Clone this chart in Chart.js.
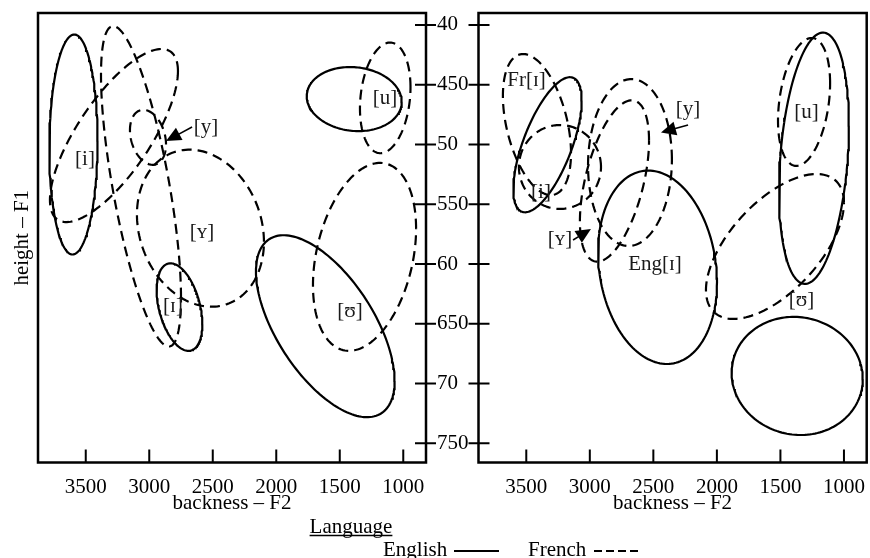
<!DOCTYPE html>
<html>
<head>
<meta charset="utf-8">
<script src="https://cdn.jsdelivr.net/npm/chart.js@4"></script>
<style>
html,body{margin:0;padding:0;background:#fff;}
#wrap{position:relative;width:870px;height:558px;overflow:hidden;}
#wrap canvas{position:absolute;left:0;top:0;}
</style>
</head>
<body>
<div id="wrap">
<canvas id="leftPanel" width="870" height="558"></canvas>
<canvas id="rightPanel" width="870" height="558"></canvas>
</div>
<script>
// ---------- axis ticks ----------
const xTickValues = [3500, 3000, 2500, 2000, 1500, 1000];
const xTickLabels = ['3500', '3000', '2500', '2000', '1500', '1000'];
const yTickValues = [400, 450, 500, 550, 600, 650, 700, 750];
const yTickLabels = ['40', '450', '50', '550', '60', '650', '70', '750'];
const xTitle = 'backness \u2013 F2';
const yTitle = 'height \u2013 F1';
const legendTitle = 'Language';
const legendNames = ['English', 'French'];

// ---------- left panel ellipses (centre F2/F1, half-extent F2/F1 in Hz, tilt in degrees) ----------
const leftVowels   = ['[i]', '[i]', '[y]', '[ɪ]', '[ʏ]', '[ɪ]', '[u]', '[u]', '[ʊ]', '[ʊ]'];
const leftLanguage = ['English', 'French', 'French', 'French', 'French', 'English', 'English', 'French', 'English', 'French'];
const leftCenterF2 = [3597, 3278, 3010, 3065, 2597, 2762, 1386, 1142, 1614, 1305];
const leftCenterF1 = [500, 492.5, 494, 535, 570, 636, 462, 461, 652, 594];
const leftHalfF2   = [190, 504, 142, 315, 500, 180, 374, 199, 546, 406];
const leftHalfF1   = [92, 72.4, 23, 134, 65.7, 36.6, 26.8, 46.3, 76.1, 78.6];
const leftTilt     = [2, 48, -15, -44, -10, -23, -5, 11, -37, 17.5];

// ---------- right panel ellipses ----------
const rightVowels   = ['Fr[ɪ]', '[i]', '[i]', '[y]', '[ʏ]', 'Eng[ɪ]', '[u]', '[u]', '[ʊ]', '[ʊ]'];
const rightLanguage = ['French', 'English', 'French', 'French', 'French', 'English', 'English', 'French', 'French', 'English'];
const rightCenterF2 = [3416, 3333, 3235, 2684, 2806, 2467, 1236, 1314, 1543, 1368];
const rightCenterF1 = [483.3, 500.2, 518.8, 515.1, 530.5, 602.7, 511.5, 464.4, 585.3, 693.6];
const rightHalfF2   = [268, 269, 323, 330, 272, 468, 275, 205, 543, 516];
const rightHalfF1   = [59, 56.5, 35.1, 69.8, 67.5, 80.9, 105.1, 53.5, 60.6, 49.4];
const rightTilt     = [-24, 41, 0, 2, 30, -9, 15, 17, 37, -3];

// ---------- vowel labels ----------
const leftLabelText = ['[i]', '[y]', '[ʏ]', '[ɪ]', '[u]', '[ʊ]'];
const leftLabelF2   = [3506, 2553, 2585, 2813, 1144, 1419];
const leftLabelF1   = [512, 485, 573, 635, 461, 639];
const rightLabelText = ['Fr[ɪ]', '[i]', '[y]', '[ʏ]', 'Eng[ɪ]', '[u]', '[ʊ]'];
const rightLabelF2   = [3498, 3384, 2227, 3235, 2487, 1295, 1334];
const rightLabelF1   = [446, 539, 470, 579, 599.5, 472, 630];

// ---------- arrows (from label to ellipse) ----------
const leftArrowFromF2 = [2663];
const leftArrowFromF1 = [485.4];
const leftArrowToF2   = [2868];
const leftArrowToF1   = [497.1];
const rightArrowFromF2 = [2227, 3132];
const rightArrowFromF1 = [483.7, 579.9];
const rightArrowToF2   = [2440, 2991];
const rightArrowToF1   = [490, 570.7];

// ---------- scale ranges ----------
const F2_MIN = 821, F2_MAX = 3876;
const F1_MIN = 390, F1_MAX = 766;

const SERIF = '"Liberation Serif", "Times New Roman", Times, serif';
Chart.defaults.font.family = SERIF;
Chart.defaults.font.size = 21;
Chart.defaults.color = '#000';

function ellipsePoints(cf2, cf1, a, b, tiltDeg) {
  const pts = [];
  const d = tiltDeg * Math.PI / 180;
  const n = 160;
  for (let k = 0; k <= n; k++) {
    const t = k / n * 2 * Math.PI;
    pts.push({ x: cf2 - a * Math.cos(t), y: cf1 - b * Math.sin(t + d) });
  }
  return pts;
}

function buildDatasets(names, langs, cf2, cf1, a, b, tilt) {
  return names.map((nm, i) => ({
    label: langs[i] + ' ' + nm,
    data: ellipsePoints(cf2[i], cf1[i], a[i], b[i], tilt[i]),
    showLine: true,
    fill: false,
    tension: 0,
    borderColor: '#000',
    borderWidth: 2.2,
    borderDash: langs[i] === 'French' ? [10, 6] : [],
    pointRadius: 0,
    pointHoverRadius: 0
  }));
}

function xScale() {
  return {
    type: 'linear', position: 'bottom', reverse: true, min: F2_MIN, max: F2_MAX,
    afterBuildTicks: s => { s.ticks = xTickValues.map(v => ({ value: v })); },
    afterFit: s => { s.height = 54; },
    grid: { display: false, drawTicks: true, tickLength: 12 },
    border: { display: false },
    ticks: {
      autoSkip: false, maxRotation: 0, padding: 0, color: '#000',
      font: { family: SERIF, size: 21 },
      callback: v => xTickLabels[xTickValues.indexOf(v)]
    },
    title: { display: true, text: xTitle, color: '#000', font: { family: SERIF, size: 21 }, padding: { top: 0, bottom: 0 } }
  };
}

function decorPlugin(side, labText, labF2, labF1, arFromF2, arFromF1, arToF2, arToF1) {
  return {
    id: 'decor_' + side,
    afterDraw(chart) {
      const ctx = chart.ctx, ca = chart.chartArea;
      const xs = chart.scales.x, ys = chart.scales.y;
      ctx.save();
      ctx.strokeStyle = '#000';
      ctx.fillStyle = '#000';
      // frame
      ctx.lineWidth = 2.5;
      ctx.setLineDash([]);
      ctx.strokeRect(ca.left, ca.top, ca.right - ca.left, ca.bottom - ca.top);
      // x ticks pointing inwards
      ctx.lineWidth = 2;
      ctx.beginPath();
      xTickValues.forEach(v => {
        const px = xs.getPixelForValue(v);
        ctx.moveTo(px, ca.bottom);
        ctx.lineTo(px, ca.bottom - 13);
      });
      // y ticks crossing the inner border
      yTickValues.forEach(v => {
        const py = ys.getPixelForValue(v);
        if (side === 'left') {
          ctx.moveTo(ca.right - 11, py);
          ctx.lineTo(ca.right + 10, py);
        } else {
          ctx.moveTo(ca.left - 10, py);
          ctx.lineTo(ca.left + 11, py);
        }
      });
      ctx.stroke();
      // vowel labels
      ctx.fillStyle = '#1a1a1a';
      ctx.font = '21px ' + SERIF;
      ctx.textAlign = 'center';
      ctx.textBaseline = 'middle';
      labText.forEach((t, i) => {
        ctx.fillText(t, xs.getPixelForValue(labF2[i]), ys.getPixelForValue(labF1[i]) + 1);
      });
      // arrows
      ctx.fillStyle = '#000';
      arFromF2.forEach((f, i) => {
        const x0 = xs.getPixelForValue(f), y0 = ys.getPixelForValue(arFromF1[i]);
        const x1 = xs.getPixelForValue(arToF2[i]), y1 = ys.getPixelForValue(arToF1[i]);
        const dx = x1 - x0, dy = y1 - y0, len = Math.hypot(dx, dy);
        const ux = dx / len, uy = dy / len;
        const hl = 15, hw = 7;
        const bx = x1 - ux * hl, by = y1 - uy * hl;
        ctx.lineWidth = 1.6;
        ctx.beginPath();
        ctx.moveTo(x0, y0);
        ctx.lineTo(bx + ux * 2, by + uy * 2);
        ctx.stroke();
        ctx.beginPath();
        ctx.moveTo(x1, y1);
        ctx.lineTo(bx - uy * hw, by + ux * hw);
        ctx.lineTo(bx + uy * hw, by - ux * hw);
        ctx.closePath();
        ctx.fill();
      });
      ctx.restore();
    }
  };
}

const legendPlugin = {
  id: 'languageLegend',
  afterDraw(chart) {
    const ctx = chart.ctx;
    ctx.save();
    ctx.fillStyle = '#000';
    ctx.strokeStyle = '#000';
    ctx.font = '21px ' + SERIF;
    ctx.textBaseline = 'alphabetic';
    ctx.textAlign = 'center';
    ctx.fillText(legendTitle, 351, 533);
    const w = ctx.measureText(legendTitle).width;
    ctx.lineWidth = 1.5;
    ctx.beginPath();
    ctx.moveTo(351 - w / 2, 535.5);
    ctx.lineTo(351 + w / 2, 535.5);
    ctx.stroke();
    ctx.textAlign = 'left';
    ctx.fillText(legendNames[0], 383, 556);
    ctx.fillText(legendNames[1], 528, 556);
    ctx.lineWidth = 2;
    ctx.beginPath();
    ctx.moveTo(454, 551);
    ctx.lineTo(499, 551);
    ctx.stroke();
    ctx.setLineDash([8, 4]);
    ctx.beginPath();
    ctx.moveTo(594, 551);
    ctx.lineTo(639, 551);
    ctx.stroke();
    ctx.restore();
  }
};

new Chart(document.getElementById('leftPanel'), {
  type: 'scatter',
  data: { datasets: buildDatasets(leftVowels, leftLanguage, leftCenterF2, leftCenterF1, leftHalfF2, leftHalfF1, leftTilt) },
  options: {
    responsive: false, animation: false, devicePixelRatio: 1,
    layout: { padding: { left: 0, top: 13, right: 394, bottom: 41.5 } },
    plugins: { legend: { display: false }, tooltip: { enabled: false } },
    scales: {
      x: xScale(),
      y: {
        type: 'linear', position: 'left', reverse: true, min: F1_MIN, max: F1_MAX,
        afterFit: s => { s.width = 38; },
        grid: { display: false, drawTicks: false },
        border: { display: false },
        ticks: { display: false },
        title: { display: true, text: yTitle, color: '#000', font: { family: SERIF, size: 21 }, padding: { top: 9.5, bottom: 0 } }
      },
      yr: {
        type: 'linear', position: 'right', reverse: true, min: F1_MIN, max: F1_MAX,
        afterBuildTicks: s => { s.ticks = yTickValues.map(v => ({ value: v })); },
        afterFit: s => { s.width = 50; },
        grid: { display: false, drawTicks: true, tickLength: 11 },
        border: { display: false },
        ticks: {
          autoSkip: false, padding: 0, color: '#000',
          font: { family: SERIF, size: 21 },
          callback: v => yTickLabels[yTickValues.indexOf(v)]
        }
      }
    }
  },
  plugins: [decorPlugin('left', leftLabelText, leftLabelF2, leftLabelF1, leftArrowFromF2, leftArrowFromF1, leftArrowToF2, leftArrowToF1), legendPlugin]
});

new Chart(document.getElementById('rightPanel'), {
  type: 'scatter',
  data: { datasets: buildDatasets(rightVowels, rightLanguage, rightCenterF2, rightCenterF1, rightHalfF2, rightHalfF1, rightTilt) },
  options: {
    responsive: false, animation: false, devicePixelRatio: 1,
    layout: { padding: { left: 478.5, top: 13, right: 3.3, bottom: 41.5 } },
    plugins: { legend: { display: false }, tooltip: { enabled: false } },
    scales: {
      x: xScale(),
      y: { type: 'linear', display: false, reverse: true, min: F1_MIN, max: F1_MAX }
    }
  },
  plugins: [decorPlugin('right', rightLabelText, rightLabelF2, rightLabelF1, rightArrowFromF2, rightArrowFromF1, rightArrowToF2, rightArrowToF1)]
});
</script>
</body>
</html>
